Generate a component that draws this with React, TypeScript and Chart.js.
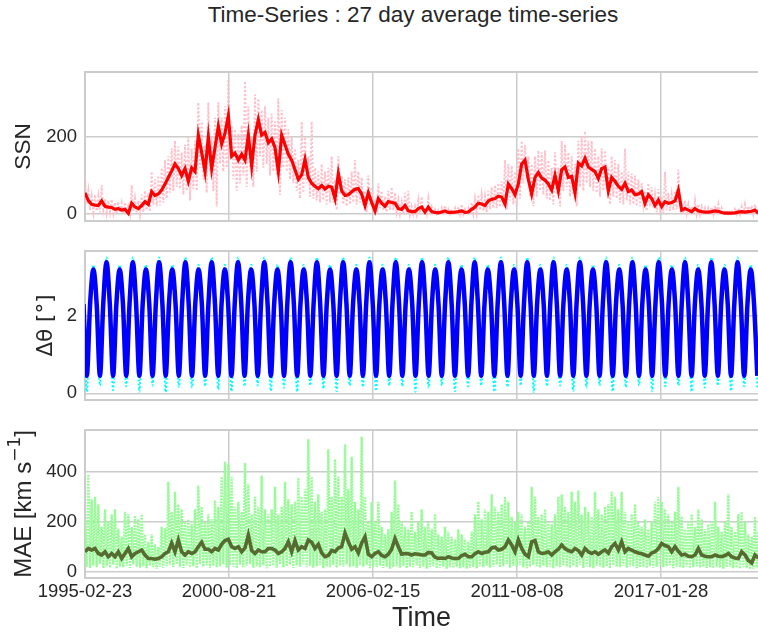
import React, { useEffect, useRef } from "react";
import { Chart, registerables } from "chart.js";

Chart.register(...registerables);

const TITLE = "Time-Series : 27 day average time-series";
const X_TITLE = "Time";
const X_TICKS = [0, 2000, 4000, 6000, 8000];
const X_TICK_LABELS = ["1995-02-23", "2000-08-21", "2006-02-15", "2011-08-08", "2017-01-28"];
const X_MIN = 0;
const X_MAX = 9347;

const Y1_TITLE = "SSN";
const Y2_TITLE = "Δθ [°]";
const Y3_TITLE_PARTS = ["MAE [km s", "−1", "]"];

// SSN and MAE stored on a regular sample grid
const GRID_STEP = 46.296;
// delta theta stored on its own regular grid (quarter of a half-year cycle)
const DT_START = -20.65;
const DT_STEP = 45.65;

const SSN_TICKS = [0, 200];
const DT_TICKS = [0, 2];
const MAE_TICKS = [0, 200, 400];

const SSN_SMOOTH = [
  55, 35, 25, 23, 22, 34, 20, 18, 17, 12,
  14, 10, 12, 2, 28, 18, 14, 22, 32, 25,
  58, 48, 52, 62, 78, 95, 112, 130, 118, 100,
  118, 85, 120, 110, 205, 160, 110, 200, 118, 172,
  228, 182, 210, 255, 150, 158, 140, 155, 140, 205,
  125, 205, 245, 205, 212, 185, 195, 172, 110, 205,
  180, 155, 140, 115, 90, 102, 142, 95, 80, 72,
  66, 74, 65, 72, 70, 40, 105, 60, 48, 50,
  58, 64, 66, 52, 22, 55, 30, 8, 40, 28,
  20, 32, 30, 28, 14, 12, 22, 8, 6, 6,
  14, 18, 5, 18, 6, 4, 3, 5, 8, 4,
  4, 5, 6, 8, 4, 5, 12, 18, 28, 26,
  22, 34, 38, 40, 46, 44, 26, 78, 66, 50,
  78, 130, 140, 90, 52, 95, 108, 93, 88, 78,
  62, 100, 60, 115, 122, 95, 98, 55, 132, 125,
  145, 122, 116, 110, 92, 118, 122, 60, 95, 85,
  72, 64, 80, 58, 62, 50, 52, 58, 28, 50,
  40, 22, 36, 19, 32, 28, 30, 34, 62, 10,
  14, 10, 6, 14, 8, 6, 5, 5, 6, 8,
  7, 4, 2, 2, 2, 3, 5, 6, 5, 6,
  7, 10, 2,
];

const SSN_RAW_HI = [
  95, 60, 45, 50, 45, 75, 40, 35, 38, 30,
  32, 28, 30, 20, 75, 40, 35, 50, 60, 55,
  110, 90, 100, 120, 140, 150, 170, 190, 175, 160,
  180, 200, 170, 190, 290, 240, 180, 290, 200, 250,
  290, 250, 280, 350, 230, 220, 210, 230, 345, 280,
  200, 310, 300, 270, 280, 250, 260, 240, 300, 270,
  250, 220, 200, 170, 140, 240, 200, 150, 240, 120,
  110, 130, 110, 120, 150, 90, 150, 100, 90, 95,
  110, 140, 110, 95, 60, 100, 70, 30, 80, 60,
  45, 60, 70, 55, 35, 30, 55, 60, 20, 20,
  35, 45, 15, 40, 18, 12, 10, 15, 22, 12,
  12, 15, 18, 25, 12, 15, 30, 40, 50, 50,
  45, 60, 70, 75, 80, 85, 140, 130, 125, 110,
  170, 190, 180, 150, 130, 150, 165, 160, 165, 140,
  120, 160, 120, 190, 180, 160, 150, 130, 190, 200,
  215, 190, 190, 170, 150, 170, 165, 120, 150, 140,
  130, 110, 170, 110, 105, 100, 90, 80, 60, 80,
  70, 50, 65, 45, 110, 55, 50, 60, 115, 30,
  35, 25, 20, 35, 25, 18, 15, 15, 18, 22,
  25, 15, 10, 10, 10, 12, 15, 18, 25, 20,
  22, 25, 12,
];

const SSN_RAW_LO = [
  25, 10, 5, 8, 4, 12, 3, 5, 2, 0,
  3, 0, 2, 0, 8, 2, 0, 5, 10, 6,
  25, 20, 22, 30, 40, 55, 60, 70, 65, 50,
  60, 35, 65, 60, 120, 90, 55, 110, 60, 20,
  130, 110, 120, 150, 90, 60, 80, 100, 70, 120,
  70, 110, 150, 120, 130, 100, 110, 100, 50, 120,
  110, 90, 80, 60, 40, 55, 80, 45, 40, 35,
  30, 35, 25, 30, 30, 10, 50, 25, 20, 25,
  30, 25, 30, 20, 5, 25, 10, 0, 15, 10,
  5, 10, 10, 8, 2, 0, 5, 0, 0, 0,
  2, 5, 0, 3, 0, 0, 0, 0, 0, 0,
  0, 0, 0, 0, 0, 0, 2, 5, 10, 8,
  5, 12, 15, 15, 18, 20, 10, 35, 25, 20,
  40, 80, 90, 45, 20, 45, 60, 50, 40, 35,
  25, 50, 20, 60, 70, 45, 50, 20, 70, 60,
  80, 70, 60, 55, 45, 60, 65, 25, 45, 40,
  30, 25, 35, 25, 25, 20, 20, 25, 8, 20,
  15, 5, 15, 2, 10, 8, 10, 12, 25, 0,
  2, 0, 1, 0, 0, 0, 0, 0, 0, 0,
  0, 0, 0, 0, 0, 0, 0, 0, 0, 0,
  0, 0, 0,
];

const DTHETA_SMOOTH = [
  2.3, 0.45, 2.3, 3.19, 2.3, 0.45, 2.3, 3.38,
  2.3, 0.45, 2.3, 3.19, 2.3, 0.45, 2.3, 3.38,
  2.3, 0.45, 2.3, 3.19, 2.3, 0.45, 2.3, 3.38,
  2.3, 0.45, 2.3, 3.19, 2.3, 0.45, 2.3, 3.38,
  2.3, 0.45, 2.3, 3.19, 2.3, 0.45, 2.3, 3.38,
  2.3, 0.45, 2.3, 3.19, 2.3, 0.45, 2.3, 3.38,
  2.3, 0.45, 2.3, 3.19, 2.3, 0.45, 2.3, 3.38,
  2.3, 0.45, 2.3, 3.19, 2.3, 0.45, 2.3, 3.38,
  2.3, 0.45, 2.3, 3.19, 2.3, 0.45, 2.3, 3.38,
  2.3, 0.45, 2.3, 3.19, 2.3, 0.45, 2.3, 3.38,
  2.3, 0.45, 2.3, 3.19, 2.3, 0.45, 2.3, 3.38,
  2.3, 0.45, 2.3, 3.19, 2.3, 0.45, 2.3, 3.38,
  2.3, 0.45, 2.3, 3.19, 2.3, 0.45, 2.3, 3.38,
  2.3, 0.45, 2.3, 3.19, 2.3, 0.45, 2.3, 3.38,
  2.3, 0.45, 2.3, 3.19, 2.3, 0.45, 2.3, 3.38,
  2.3, 0.45, 2.3, 3.19, 2.3, 0.45, 2.3, 3.38,
  2.3, 0.45, 2.3, 3.19, 2.3, 0.45, 2.3, 3.38,
  2.3, 0.45, 2.3, 3.19, 2.3, 0.45, 2.3, 3.38,
  2.3, 0.45, 2.3, 3.19, 2.3, 0.45, 2.3, 3.38,
  2.3, 0.45, 2.3, 3.19, 2.3, 0.45, 2.3, 3.38,
  2.3, 0.45, 2.3, 3.19, 2.3, 0.45, 2.3, 3.38,
  2.3, 0.45, 2.3, 3.19, 2.3, 0.45, 2.3, 3.38,
  2.3, 0.45, 2.3, 3.19, 2.3, 0.45, 2.3, 3.38,
  2.3, 0.45, 2.3, 3.19, 2.3, 0.45, 2.3, 3.38,
  2.3, 0.45, 2.3, 3.19, 2.3, 0.45, 2.3, 3.38,
  2.3, 0.45, 2.3, 3.19, 2.3, 0.45,
];

const DTHETA_RAW = [
  2.3, 0.04, 2.3, 3.31, 2.3, 0.2, 2.3, 3.5,
  2.3, 0.08, 2.3, 3.31, 2.3, 0.18, 2.3, 3.5,
  2.3, 0.04, 2.3, 3.31, 2.3, 0.2, 2.3, 3.5,
  2.3, 0.03, 2.3, 3.31, 2.3, 0.16, 2.3, 3.5,
  2.3, 0.15, 2.3, 3.31, 2.3, 0.18, 2.3, 3.5,
  2.3, 0.1, 2.3, 3.31, 2.3, 0.05, 2.3, 3.5,
  2.3, 0.18, 2.3, 3.31, 2.3, 0.2, 2.3, 3.5,
  2.3, 0.06, 2.3, 3.31, 2.3, 0.14, 2.3, 3.5,
  2.3, 0.04, 2.3, 3.31, 2.3, 0.2, 2.3, 3.5,
  2.3, 0.12, 2.3, 3.31, 2.3, 0.05, 2.3, 3.5,
  2.3, 0.2, 2.3, 3.31, 2.3, 0.16, 2.3, 3.5,
  2.3, 0.06, 2.3, 3.31, 2.3, 0.2, 2.3, 3.5,
  2.3, 0.18, 2.3, 3.31, 2.3, 0.04, 2.3, 3.5,
  2.3, 0.14, 2.3, 3.31, 2.3, 0.2, 2.3, 3.5,
  2.3, 0.05, 2.3, 3.31, 2.3, 0.18, 2.3, 3.5,
  2.3, 0.2, 2.3, 3.31, 2.3, 0.04, 2.3, 3.5,
  2.3, 0.16, 2.3, 3.31, 2.3, 0.2, 2.3, 3.5,
  2.3, 0.03, 2.3, 3.31, 2.3, 0.18, 2.3, 3.5,
  2.3, 0.2, 2.3, 3.31, 2.3, 0.06, 2.3, 3.5,
  2.3, 0.15, 2.3, 3.31, 2.3, 0.2, 2.3, 3.5,
  2.3, 0.05, 2.3, 3.31, 2.3, 0.16, 2.3, 3.5,
  2.3, 0.2, 2.3, 3.31, 2.3, 0.05, 2.3, 3.5,
  2.3, 0.18, 2.3, 3.31, 2.3, 0.2, 2.3, 3.5,
  2.3, 0.04, 2.3, 3.31, 2.3, 0.15, 2.3, 3.5,
  2.3, 0.2, 2.3, 3.31, 2.3, 0.06, 2.3, 3.5,
  2.3, 0.18, 2.3, 3.31, 2.3, 0.12,
];

const MAE_SMOOTH = [
  80, 93, 87, 93, 73, 67, 80, 60, 73, 60,
  80, 53, 73, 93, 60, 73, 80, 87, 67, 53,
  53, 50, 53, 60, 73, 80, 115, 80, 127, 80,
  67, 80, 73, 80, 100, 118, 90, 90, 80, 93,
  87, 110, 125, 130, 100, 93, 100, 80, 95, 147,
  85, 73, 87, 80, 80, 93, 93, 87, 73, 80,
  93, 120, 80, 125, 87, 100, 93, 127, 118, 93,
  110, 75, 60, 65, 85, 80, 95, 100, 155, 120,
  90, 100, 75, 115, 140, 70, 60, 73, 80, 65,
  60, 70, 90, 133, 100, 70, 73, 72, 67, 72,
  70, 67, 67, 77, 75, 58, 53, 55, 53, 60,
  55, 53, 53, 65, 70, 60, 60, 72, 80, 73,
  78, 80, 95, 98, 87, 90, 100, 127, 107, 80,
  127, 93, 70, 60, 120, 125, 80, 73, 75, 80,
  67, 80, 90, 107, 93, 85, 80, 93, 85, 67,
  93, 80, 73, 80, 70, 80, 87, 75, 100, 113,
  87, 120, 80, 93, 87, 80, 75, 72, 67, 62,
  75, 80, 93, 113, 105, 100, 80, 100, 82, 67,
  70, 62, 60, 67, 93, 67, 62, 60, 60, 67,
  62, 60, 65, 73, 60, 55, 53, 80, 67, 45,
  35, 67, 55,
];

const MAE_RAW_HI = [
  200, 390, 290, 300, 270, 180, 250, 200, 230, 250,
  170, 140, 240, 230, 180, 225, 210, 230, 150, 120,
  150, 110, 100, 180, 175, 360, 240, 320, 270, 250,
  200, 210, 190, 250, 345, 260, 200, 230, 210, 285,
  260, 380, 440, 430, 380, 260, 280, 240, 435, 350,
  230, 300, 260, 385, 250, 230, 250, 340, 230, 260,
  360, 290, 270, 280, 375, 300, 330, 530, 380, 280,
  310, 240, 250, 490, 300, 450, 380, 300, 510, 330,
  460, 280, 250, 540, 300, 200, 280, 200, 280, 180,
  150, 170, 240, 365, 270, 200, 180, 170, 240, 160,
  200, 250, 180, 200, 170, 230, 150, 140, 180, 160,
  140, 130, 170, 150, 130, 120, 160, 230, 280, 210,
  250, 240, 310, 260, 240, 270, 300, 280, 220, 200,
  240, 230, 180, 200, 340, 300, 220, 230, 250, 200,
  190, 230, 300, 310, 260, 240, 320, 280, 325, 230,
  260, 240, 220, 320, 250, 230, 260, 270, 320, 300,
  250, 320, 240, 200, 230, 270, 200, 180, 210, 170,
  200, 280, 300, 280, 250, 230, 200, 240, 340, 220,
  170, 200, 230, 180, 250, 210, 170, 190, 200, 280,
  180, 160, 200, 310, 180, 160, 230, 240, 200, 150,
  140, 220, 160,
];

const MAE_RAW_LO = [
  20, 15, 25, 18, 30, 14, 22, 16, 28, 12,
  20, 18, 24, 15, 30, 20, 16, 22, 14, 25,
  18, 12, 20, 16, 22, 28, 18, 30, 20, 15,
  25, 18, 22, 14, 30, 20, 26, 16, 24, 18,
  22, 30, 16, 25, 20, 14, 28, 18, 24, 30,
  16, 22, 18, 26, 14, 20, 24, 16, 30, 18,
  22, 28, 15, 25, 20, 30, 18, 24, 16, 22,
  26, 14, 20, 18, 28, 16, 24, 20, 30, 18,
  22, 16, 25, 20, 28, 14, 20, 18, 24, 15,
  20, 12, 18, 22, 16, 24, 14, 20, 18, 25,
  15, 20, 12, 18, 22, 14, 16, 20, 12, 18,
  15, 20, 14, 18, 12, 16, 20, 14, 22, 18,
  25, 16, 20, 28, 18, 22, 30, 16, 24, 20,
  26, 18, 14, 20, 28, 22, 16, 24, 18, 20,
  14, 22, 18, 26, 20, 16, 24, 18, 28, 15,
  22, 18, 14, 24, 20, 16, 22, 14, 26, 20,
  18, 24, 16, 20, 22, 14, 18, 20, 15, 22,
  16, 20, 24, 18, 22, 26, 14, 20, 18, 15,
  20, 14, 18, 22, 16, 20, 15, 18, 14, 20,
  16, 12, 18, 20, 14, 16, 12, 18, 15, 10,
  12, 16, 14,
];

const FONT = "'Liberation Sans', Arial, Helvetica, sans-serif";
const MATH_FONT = "'DejaVu Sans', sans-serif";
const TEXT = "#262626";
const GRID = "#cccccc";
const FRAME = "#cccccc";

Chart.defaults.font.family = FONT;
Chart.defaults.color = TEXT;

type Pt = { x: number; y: number };

function onGrid(values: number[], start: number, step: number): Pt[] {
  return values.map((v, i) => ({ x: start + i * step, y: v }));
}

function hiLo(hi: number[], lo: number[], step: number): Pt[] {
  const out: Pt[] = [];
  hi.forEach((h, i) => {
    out.push({ x: i * step, y: h });
    out.push({ x: i * step + step / 2, y: lo[i] });
  });
  return out;
}

const framePlugin = {
  id: "frameTop",
  afterDraw(chart: any) {
    const { ctx, chartArea } = chart;
    ctx.save();
    ctx.strokeStyle = FRAME;
    ctx.lineWidth = 2;
    ctx.beginPath();
    ctx.moveTo(chartArea.left - 1, chartArea.top);
    ctx.lineTo(chartArea.right, chartArea.top);
    ctx.stroke();
    ctx.restore();
  },
};

// y-axis title with a superscript, drawn rotated beside the axis
const supTitlePlugin = {
  id: "supTitle",
  afterDraw(chart: any) {
    const { ctx, chartArea } = chart;
    const fonts = [`24px ${FONT}`, `17px ${MATH_FONT}`, `24px ${FONT}`];
    const shifts = [0, -9, 0];
    ctx.save();
    let total = 0;
    const widths = Y3_TITLE_PARTS.map((t, i) => {
      ctx.font = fonts[i];
      const w = ctx.measureText(t).width;
      total += w;
      return w;
    });
    ctx.translate(24.5, (chartArea.top + chartArea.bottom) / 2);
    ctx.rotate(-Math.PI / 2);
    ctx.fillStyle = TEXT;
    ctx.textBaseline = "middle";
    ctx.textAlign = "left";
    let x = -total / 2;
    Y3_TITLE_PARTS.forEach((t, i) => {
      ctx.font = fonts[i];
      ctx.fillText(t, x, shifts[i]);
      x += widths[i];
    });
    ctx.restore();
  },
};

type PanelProps = {
  top: number;
  height: number;
  padTop: number;
  padBottom: number;
  xAxisHeight: number;
  showX: boolean;
  yMin: number;
  yMax: number;
  yTicks: number[];
  yTitle: string;
  yTitleFont: any;
  yTitlePad: number;
  datasets: any[];
  extraPlugins?: any[];
};

function Panel(p: PanelProps) {
  const ref = useRef<HTMLCanvasElement>(null);
  useEffect(() => {
    const chart = new Chart(ref.current as HTMLCanvasElement, {
      type: "line",
      data: { datasets: p.datasets },
      options: {
        animation: false,
        responsive: false,
        devicePixelRatio: 1,
        parsing: false,
        normalized: true,
        layout: { padding: { top: p.padTop, bottom: p.padBottom, left: 0, right: 0 } },
        plugins: {
          legend: { display: false },
          tooltip: { enabled: false },
          title: { display: false },
        },
        elements: { point: { radius: 0 } },
        scales: {
          x: {
            type: "linear",
            min: X_MIN,
            max: X_MAX,
            afterBuildTicks: (s: any) => {
              s.ticks = X_TICKS.map((v) => ({ value: v }));
            },
            afterFit: (s: any) => {
              s.height = p.xAxisHeight;
              s.paddingLeft = 0;
              s.paddingRight = 0;
              s.paddingTop = 0;
              s.paddingBottom = 0;
            },
            ticks: {
              display: p.showX,
              autoSkip: false,
              maxRotation: 0,
              padding: 3,
              color: TEXT,
              font: { size: 18.5 },
              callback: (_v: any, i: number) => X_TICK_LABELS[i],
            },
            grid: { color: GRID, lineWidth: 1.5, drawTicks: false },
            border: { display: true, color: FRAME, width: 2 },
            title: {
              display: p.showX,
              text: X_TITLE,
              color: TEXT,
              font: { size: 27 },
              padding: { top: 0, bottom: 2 },
            },
          },
          y: {
            type: "linear",
            min: p.yMin,
            max: p.yMax,
            afterBuildTicks: (s: any) => {
              s.ticks = p.yTicks.map((v) => ({ value: v }));
            },
            afterFit: (s: any) => {
              s.width = 85;
              s.paddingLeft = 0;
              s.paddingRight = 0;
              s.paddingTop = 0;
              s.paddingBottom = 0;
            },
            ticks: {
              padding: 8,
              color: TEXT,
              font: { size: 18.5 },
              callback: (v: any) => String(v),
            },
            grid: { color: GRID, lineWidth: 1.5, drawTicks: false },
            border: { display: true, color: FRAME, width: 2 },
            title: {
              display: p.yTitle !== "",
              text: p.yTitle,
              color: TEXT,
              font: p.yTitleFont,
              padding: { top: p.yTitlePad, bottom: 0 },
            },
          },
        },
      } as any,
      plugins: [framePlugin, ...(p.extraPlugins || [])],
    });
    return () => chart.destroy();
  }, []);
  return (
    <canvas
      ref={ref}
      width={758}
      height={p.height}
      style={{ position: "absolute", left: 0, top: p.top, width: 758, height: p.height, display: "block" }}
    />
  );
}

export default function App() {
  useEffect(() => {
    document.body.style.margin = "0";
  }, []);

  const ssnSets = [
    {
      data: onGrid(SSN_SMOOTH, 0, GRID_STEP),
      borderColor: "#ff0000",
      borderWidth: 3.2,
      tension: 0,
      order: 0,
    },
    {
      data: hiLo(SSN_RAW_HI, SSN_RAW_LO, GRID_STEP),
      borderColor: "#ffc0cb",
      borderWidth: 2,
      borderDash: [2, 2],
      tension: 0,
      order: 1,
    },
  ];

  const dtSets = [
    {
      data: onGrid(DTHETA_SMOOTH, DT_START, DT_STEP),
      borderColor: "#0000ff",
      borderWidth: 4.5,
      cubicInterpolationMode: "monotone",
      order: 0,
    },
    {
      data: onGrid(DTHETA_RAW, DT_START, DT_STEP),
      borderColor: "#00ffff",
      borderWidth: 2,
      borderDash: [2, 2],
      cubicInterpolationMode: "monotone",
      order: 1,
    },
  ];

  const maeSets = [
    {
      data: onGrid(MAE_SMOOTH, 0, GRID_STEP),
      borderColor: "#556b2f",
      borderWidth: 3.6,
      tension: 0,
      order: 0,
    },
    {
      data: hiLo(MAE_RAW_HI, MAE_RAW_LO, GRID_STEP),
      borderColor: "#98fb98",
      borderWidth: 2.4,
      borderDash: [2, 1],
      tension: 0,
      order: 1,
    },
  ];

  return (
    <div
      style={{
        position: "fixed",
        left: 0,
        top: 0,
        width: 758,
        height: 637,
        background: "#ffffff",
        overflow: "hidden",
        fontFamily: FONT,
      }}
    >
      <div
        style={{
          position: "absolute",
          left: 0,
          top: 4,
          width: 826,
          textAlign: "center",
          fontSize: 22.5,
          lineHeight: 1,
          color: TEXT,
          whiteSpace: "nowrap",
        }}
      >
        {TITLE}
      </div>
      <Panel
        top={60}
        height={173}
        padTop={12}
        padBottom={12}
        xAxisHeight={0}
        showX={false}
        yMin={-18.2}
        yMax={368.8}
        yTicks={SSN_TICKS}
        yTitle={Y1_TITLE}
        yTitleFont={{ size: 22.5 }}
        yTitlePad={10.3}
        datasets={ssnSets}
      />
      <Panel
        top={239}
        height={173}
        padTop={12}
        padBottom={12}
        xAxisHeight={0}
        showX={false}
        yMin={-0.173}
        yMax={3.667}
        yTicks={DT_TICKS}
        yTitle={Y2_TITLE}
        yTitleFont={{ size: 21.5, family: MATH_FONT }}
        yTitlePad={34}
        datasets={dtSets}
      />
      <Panel
        top={418}
        height={219}
        padTop={12}
        padBottom={0}
        xAxisHeight={59}
        showX={true}
        yMin={-25}
        yMax={567}
        yTicks={MAE_TICKS}
        yTitle=""
        yTitleFont={{ size: 22 }}
        yTitlePad={0}
        datasets={maeSets}
        extraPlugins={[supTitlePlugin]}
      />
    </div>
  );
}
